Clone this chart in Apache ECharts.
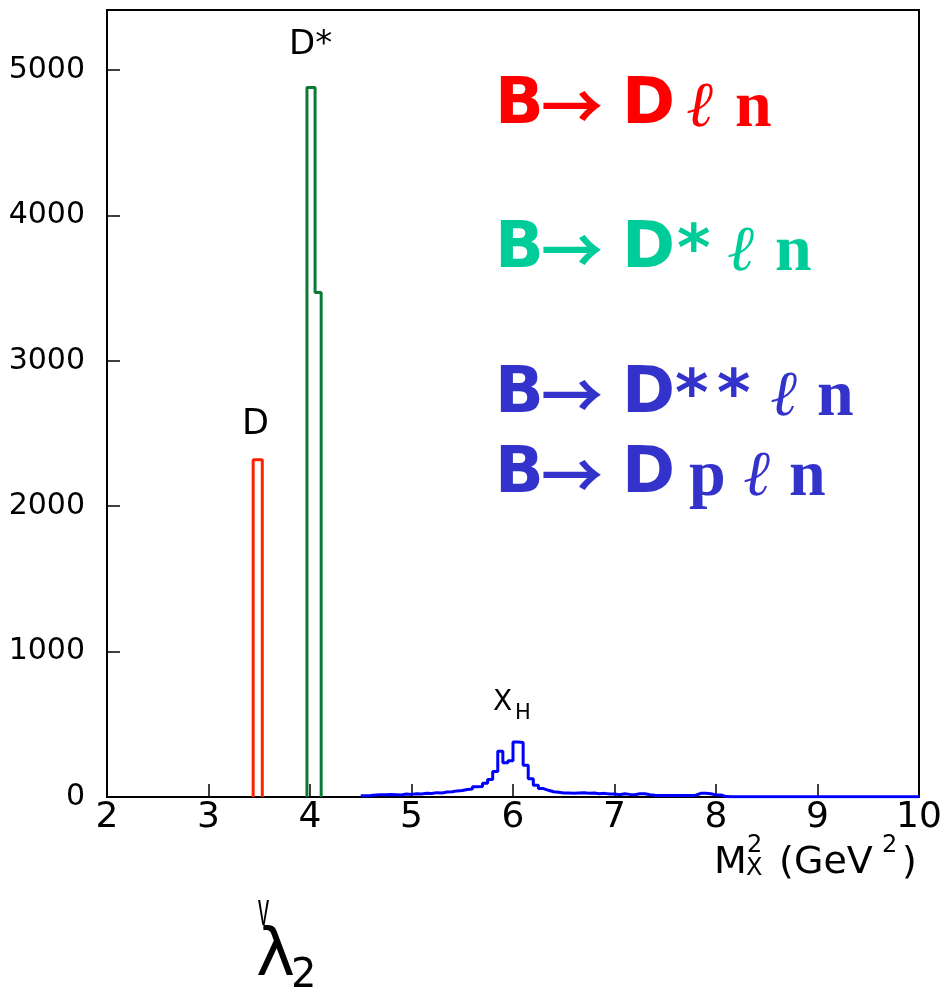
<!DOCTYPE html>
<html><head><meta charset="utf-8">
<script src="https://cdn.jsdelivr.net/npm/echarts@6/dist/echarts.min.js"></script>
<style>html,body{margin:0;padding:0;background:#fff}#c{width:941px;height:995px}</style>
</head><body><div id="c"></div>
<script>
// ---- data ----
const xTicks = [2,3,4,5,6,7,8,9,10];
const yTicks = [0,1000,2000,3000,4000,5000];
// D peak (red)
const dEdges = [3.44, 3.53];
const dCounts = [2320];
// D* peak (green)
const dsEdges = [3.97, 4.05, 4.11];
const dsCounts = [4880, 3470];
// X_H continuum (blue), bins of 0.05 starting at 4.5
const xhStart = 4.5;
const xhWidth = 0.05;
const xhCounts = [
  8,10,14,16,15,18,16,14,20,18,
  22,20,26,24,30,28,34,36,42,45,
  52,55,70,72,95,120,175,315,235,250,
  378,375,218,126,80,58,46,36,32,28,
  27,25,28,30,26,28,22,25,20,20,
  16,22,18,16,22,22,15,12,10,10,
  10,10,10,10,10,12,25,25,22,14,
  14,3,2,2,2,2,2,2,2,2,
  2,2,2,2,2,2,2,2,2,2,
  2,2,2,2,2,2,2,2,2,2,
  2,2,2,2,2,2,2,2,2,2
];

function histPath(edges, counts, closeStart, closeEnd){
  const pts = [];
  if (closeStart) pts.push([edges[0], 0]);
  for (let i = 0; i < counts.length; i++){
    pts.push([edges[i], counts[i]]);
    pts.push([edges[i+1], counts[i]]);
  }
  if (closeEnd) pts.push([edges[edges.length-1], 0]);
  return pts;
}
const xhEdges = [];
for (let i = 0; i <= xhCounts.length; i++) xhEdges.push(+(xhStart + i*xhWidth).toFixed(4));

const chart = echarts.init(document.getElementById('c'), null, {renderer:'canvas'});
const DJ = '"DejaVu Sans"';
const SANSB = 'bold 64px "DejaVu Sans"';
const ARROW = 'bold 62px "Noto Sans CJK SC"';
const ELL = 'italic 64px "Liberation Serif"';
const SERB = 'bold 66px "Liberation Serif"';

function t(text, x, y, font, fill, extra){
  return Object.assign({type: 'text', x: x, y: y, z: 100,
    style: {text: text, font: font, fill: fill || '#000', align: 'left', verticalAlign: 'middle'}}, extra || {});
}
const RED = '#ff0000', GRN = '#00cc99', BLU = '#3333cc';
function line(pieces, yc, fill){
  return pieces.map(p => t(p[0], p[1], yc + p[3], p[2], fill));
}
const graphics = [].concat(
  // peak annotations
  [t('D', 242, 425, '35px ' + DJ),
   t('D*', 289, 45, '34px ' + DJ),
   t('X', 493, 703, '28px ' + DJ),
   t('H', 515, 714, '21px ' + DJ)],
  // axis title
  [t('M', 714, 863, '38px ' + DJ),
   t('2', 747, 846, '24px ' + DJ),
   t('X', 746, 869, '24px ' + DJ),
   t('(', 779, 863, '38px ' + DJ),
   t('GeV', 794, 863, '38px ' + DJ),
   t('2', 882, 846, '24px ' + DJ),
   t(')', 902, 863, '38px ' + DJ)],
  // process labels
  line([['B', 495, SANSB, 0], ['→', 541, ARROW, 0], ['D', 622, SANSB, 0], ['ℓ', 686, ELL, 3], ['n', 735, SERB, 2]], 106.5, RED),
  line([['B', 495, SANSB, 0], ['→', 541, ARROW, 0], ['D', 622, SANSB, 0], ['*', 677, SANSB, 3], ['ℓ', 727, ELL, 3], ['n', 775, SERB, 2]], 250.5, GRN),
  line([['B', 495, SANSB, 0], ['→', 541, ARROW, 0], ['D', 622, SANSB, 0], ['*', 675, SANSB, 3], ['*', 717, SANSB, 3], ['ℓ', 770, ELL, 3], ['n', 817, SERB, 2]], 395.5, BLU),
  line([['B', 495, SANSB, 0], ['→', 541, ARROW, 0], ['D', 622, SANSB, 0], ['p', 689, SERB, 2], ['ℓ', 743, ELL, 3], ['n', 789, SERB, 2]], 475.5, BLU),
  // lambda_2 with check mark
  [Object.assign(t('v', 258, 889, '26px "Liberation Sans"'), {scaleX: 0.85, scaleY: 1.8, style: {text: 'v', font: '26px "Liberation Sans"', fill: '#000', align: 'left', verticalAlign: 'top'}}),
   t('λ', 256, 958, '66px ' + DJ),
   t('2', 291, 977, '40px ' + DJ)]
);

const option = {
  backgroundColor: '#fff',
  animation: false,
  grid: {left: 107, right: 22, top: 10, bottom: 198, containLabel: false, outerBoundsMode: 'none',
    show: true, borderColor: '#000', borderWidth: 2, backgroundColor: 'transparent'},
  xAxis: {
    type: 'value', min: xTicks[0], max: xTicks[xTicks.length-1], interval: 1,
    axisLine: {show: true, onZero: false, lineStyle: {color: '#000', width: 2}},
    axisTick: {show: true, inside: true, length: 13, lineStyle: {color: '#000', width: 1.5}},
    axisLabel: {color: '#000', fontFamily: 'DejaVu Sans', fontSize: 36, margin: 3},
    splitLine: {show: false}
  },
  yAxis: {
    type: 'value', min: 0, max: 5413, interval: 1000,
    axisLine: {show: true, lineStyle: {color: '#000', width: 2}},
    axisTick: {show: true, inside: true, length: 13, lineStyle: {color: '#000', width: 1.5}},
    axisLabel: {color: '#000', fontFamily: 'DejaVu Sans', fontSize: 30, margin: 22,
      formatter: v => (yTicks.indexOf(v) >= 0 ? String(v) : '')},
    splitLine: {show: false}
  },
  series: [
    {type: 'line', data: histPath(xhEdges, xhCounts, false, false), symbol: 'none',
     lineStyle: {color: '#0000ff', width: 3}, z: 3},
    {type: 'line', data: histPath(dEdges, dCounts, true, true), symbol: 'none',
     lineStyle: {color: '#ff2200', width: 3}, z: 4},
    {type: 'line', data: histPath(dsEdges, dsCounts, true, true), symbol: 'none',
     lineStyle: {color: '#0a7a35', width: 3}, z: 4}
  ],
  graphic: graphics
};
chart.setOption(option);
</script></body></html>
